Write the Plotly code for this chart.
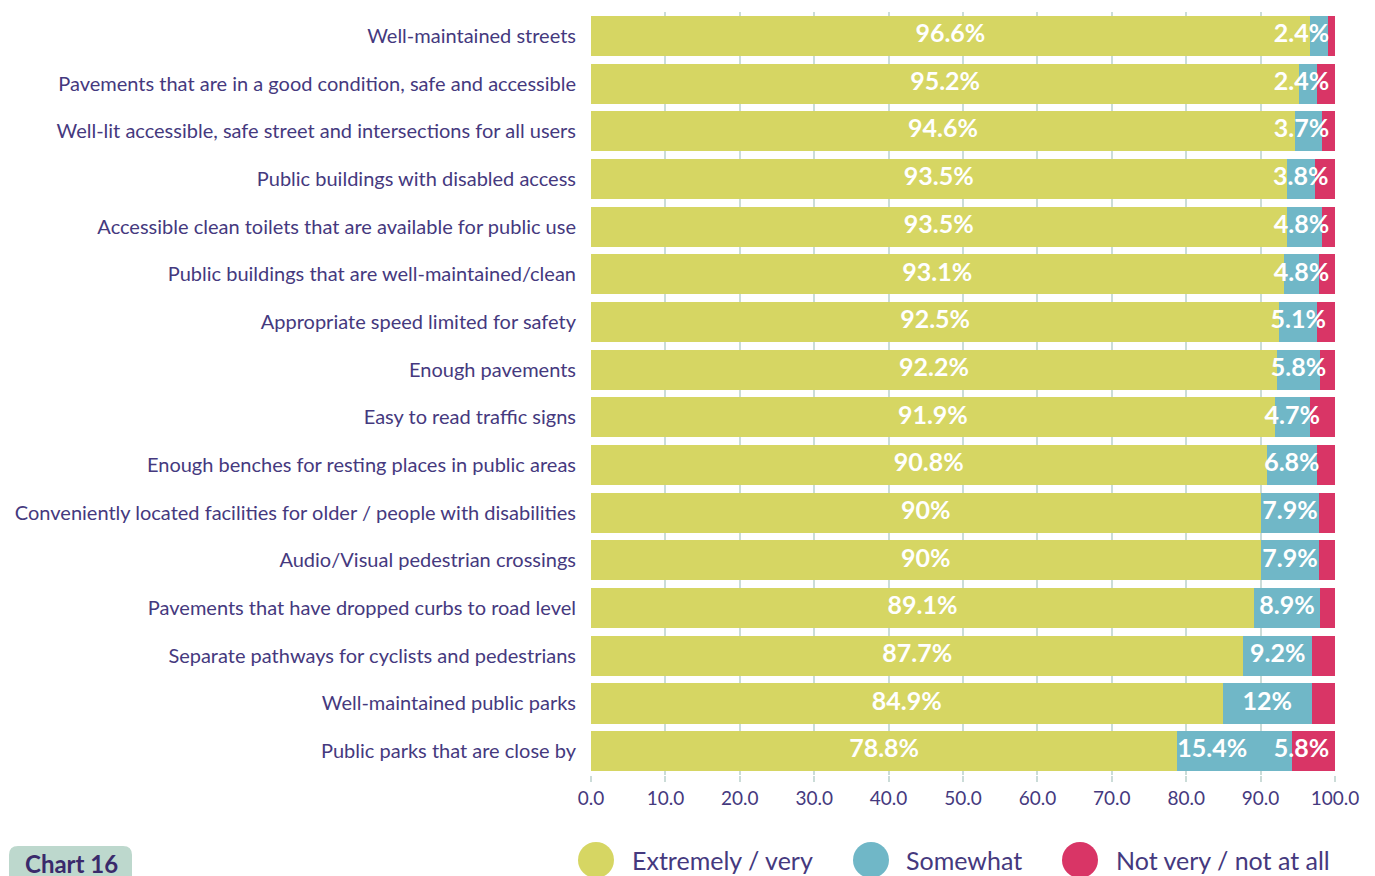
import plotly.graph_objects as go

categories = [
    "Well-maintained streets",
    "Pavements that are in a good condition, safe and accessible",
    "Well-lit accessible, safe street and intersections for all users",
    "Public buildings with disabled access",
    "Accessible clean toilets that are available for public use",
    "Public buildings that are well-maintained/clean",
    "Appropriate speed limited for safety",
    "Enough pavements",
    "Easy to read traffic signs",
    "Enough benches for resting places in public areas",
    "Conveniently located facilities for older / people with disabilities",
    "Audio/Visual pedestrian crossings",
    "Pavements that have dropped curbs to road level",
    "Separate pathways for cyclists and pedestrians",
    "Well-maintained public parks",
    "Public parks that are close by",
]
extremely = [96.6, 95.2, 94.6, 93.5, 93.5, 93.1, 92.5, 92.2, 91.9, 90.8, 90.0, 90.0, 89.1, 87.7, 84.9, 78.8]
somewhat = [2.4, 2.4, 3.7, 3.8, 4.8, 4.8, 5.1, 5.8, 4.7, 6.8, 7.9, 7.9, 8.9, 9.2, 12.0, 15.4]
not_very = [1.0, 2.4, 1.7, 2.7, 1.7, 2.1, 2.4, 2.0, 3.4, 2.4, 2.1, 2.1, 2.0, 3.1, 3.1, 5.8]
series_names = ["Extremely / very", "Somewhat", "Not very / not at all"]
colors = ["#d6d663", "#70b7c7", "#d93566"]
x_ticks = [0, 10, 20, 30, 40, 50, 60, 70, 80, 90, 100]

FONT = "Lato"
PURPLE = "#45397e"
LABEL_MAX_X = 95.5   # labels are kept inside the plot area (clamped near the right edge)
MIN_LABEL = 5        # smallest "not very" share that gets a label

def fmt(v):
    return f"{v:g}%"

series = [extremely, somewhat, not_very]
texts = [
    [fmt(v) for v in extremely],
    [fmt(v) for v in somewhat],
    [fmt(v) if v >= MIN_LABEL else "" for v in not_very],
]
bases = [[0] * len(extremely),
         list(extremely),
         [e + s for e, s in zip(extremely, somewhat)]]

fig = go.Figure()
for name, vals, col in zip(series_names, series, colors):
    fig.add_trace(go.Bar(
        y=categories, x=vals, orientation="h", name=name,
        marker=dict(color=col, line=dict(width=0)),
        showlegend=False,
    ))

# value labels drawn above all segments
for k, (name, vals, base, txt) in enumerate(zip(series_names, series, bases, texts)):
    xs, pos = [], []
    for i, (b, v) in enumerate(zip(base, vals)):
        if k == 1 and not_very[i] >= MIN_LABEL:
            # make room for the neighbouring label: start at the segment's left edge
            xs.append(b)
            pos.append("middle right")
        else:
            xs.append(min(b + v / 2, LABEL_MAX_X))
            pos.append("middle center")
    fig.add_trace(go.Scatter(
        y=categories, x=xs, mode="text", text=txt, name=name,
        textposition=pos,
        textfont=dict(family=FONT, size=25, color="white", weight="bold"),
        showlegend=False, cliponaxis=False, hoverinfo="skip",
    ))

# page is offset by the 8px body margin; work in page pixels
OFF = 8
W, H = 1375, 876
L, R, T, B = 591 - OFF, 40 + OFF, 12 - OFF, 101 + OFF
pw, ph = W - L - R, H - T - B

def px(xp):
    return (xp - OFF - L) / pw

def py(yp):
    return (H - B - (yp - OFF)) / ph

shapes = []
annotations = []
legend_items = [(596, 630), (871, 904), (1080, 1114)]
for (cx, tx), name, col in zip(legend_items, series_names, colors):
    shapes.append(dict(type="circle", xref="paper", yref="paper",
                       xsizemode="pixel", ysizemode="pixel",
                       xanchor=px(cx), yanchor=py(860),
                       x0=-18, x1=18, y0=-18, y1=18,
                       fillcolor=col, line=dict(width=0)))
    annotations.append(dict(xref="paper", yref="paper", x=px(tx), y=py(860),
                            xanchor="left", yanchor="middle", showarrow=False,
                            text=name, font=dict(family=FONT, size=25, color=PURPLE)))

# "Chart 16" badge
x0, x1, y0, y1, r = 9, 132, 846, 884, 9
path = (f"M {px(x0+r)},{py(y0)} L {px(x1-r)},{py(y0)} "
        f"Q {px(x1)},{py(y0)} {px(x1)},{py(y0+r)} L {px(x1)},{py(y1)} "
        f"L {px(x0)},{py(y1)} L {px(x0)},{py(y0+r)} "
        f"Q {px(x0)},{py(y0)} {px(x0+r)},{py(y0)} Z")
shapes.append(dict(type="path", xref="paper", yref="paper", path=path,
                   fillcolor="#bdd8cd", line=dict(width=0)))
annotations.append(dict(xref="paper", yref="paper", x=px(71), y=py(864),
                        xanchor="center", yanchor="middle", showarrow=False,
                        text="<b>Chart 16</b>",
                        font=dict(family=FONT, size=24, color="#3a2a6b")))

fig.update_layout(
    barmode="stack",
    bargap=0.16,
    width=W, height=H,
    margin=dict(l=L, r=R, t=T, b=B, pad=0),
    paper_bgcolor="white", plot_bgcolor="white",
    font=dict(family=FONT, color=PURPLE),
    shapes=shapes, annotations=annotations,
    xaxis=dict(range=[0, 100], tickvals=x_ticks, ticktext=[f"{v:.1f}" for v in x_ticks],
               showgrid=True, gridcolor="#cbdcd8", gridwidth=1.5,
               zeroline=False, showline=False,
               ticks="outside", ticklen=6, tickcolor="#cbdcd8", tickwidth=1.5,
               tickfont=dict(family=FONT, size=19, color=PURPLE)),
    yaxis=dict(range=[len(categories) - 0.5, -0.5], autorange=False,
               showgrid=False, zeroline=False, showline=False,
               ticks="", ticklabelstandoff=14,
               tickfont=dict(family=FONT, size=20, color=PURPLE)),
)

fig.write_html("out.html")
